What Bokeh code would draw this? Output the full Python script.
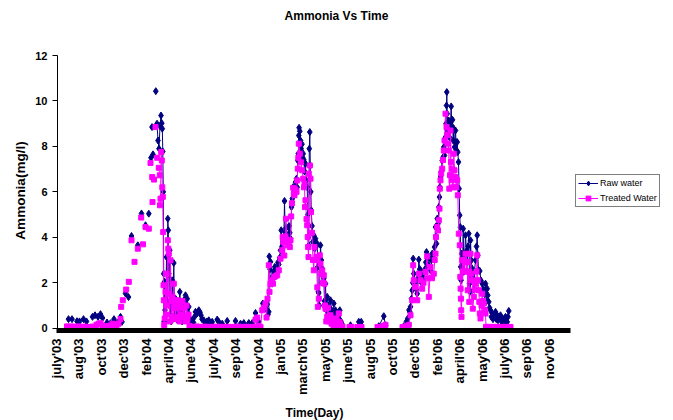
import numpy as np
from bokeh.plotting import figure
from bokeh.models import Range1d, FixedTicker, CustomJSTickFormatter, Legend, LegendItem, Label
from bokeh.embed import file_html
from bokeh.resources import INLINE

FONT = "Liberation Sans"

month_labels = ["july'03", "aug'03", "oct'03", "dec'03", "feb'04", "april'04", "june'04",
                "july'04", "sep'04", "nov'04", "jan'05", "march'05", "may'05", "june'05",
                "aug'05", "oct'05", "dec'05", "feb'06", "april'06", "may'06", "july'06",
                "sep'06", "nov'06"]
label_start = -1.0    # record index of first category label
label_step = 22.4     # records between category labels
record_count = 513    # records spanned by the category axis
y_min, y_max = -0.1, 12
y_ticks = [0, 2, 4, 6, 8, 10, 12]

# Raw water (record index, ammonia mg/l); None = missing record (line gap)
raw_pos = [
    11, 14.5, None, 19.5, 22, 26, 29, None, 35, 37.5, 40.5, 43, 45, None,
    49.5, 53, 56.5, 60, 63, 64.5, None,
    68, 71, None, 74, None, 80.3, None, 84, None, 88, None, 91.3, None,
    93.5, 95.5, None, 94.5, None, 98.3, None,
    99.5, 100.5, 101.5, 102.5, 103.5, 104.3, 104.8, 105.3, 105.8, 106.2,
    106.6, 107, 107.5, 108, 109, 109.5, 110.3, 110.8, 111.3, 111.8,
    112.3, 113, 113.7, 114.7, 115.5, 116.3, 117, 118, 119, 120,
    121, 122.3, 123.5, 124.5, 125.5, 126.3, 127, 128, 129, 129.7,
    130.5, 131.3, 132.5, 133.5, 134.7, 136, 137, 138, 139.7, 141.3,
    142.5, 143.5, 144.5, 146.3, 148, 149.5, 151.3, 153, 154.7, None,
    159.7, 161.3, 164.7, None, 169.7, None, 178, None, 183, 186.3, None,
    191.3, 194.7, None, 198, 201.3, None,
    205.3, 206.5, 207.3, 208, 209.7, 210.5, 211.3, 211.8, 212.5, 213,
    213.8, 214.7, 215.5, 216.3, 217.3, 218.5, 219.7, 220.5, 221.3, 222.2,
    223, 223.7, 224.5, 225.5, 226.3, 227, 227.7, 228.5, 229.5, 230.3,
    231.5, 232.3, 233, 234, 234.8, 235.7, 236.5, 237.2, 238, 239,
    239.7, 240.3, 240.8, 241.3, 241.6, 242.3, 243, 243.7, 244.5, 245.2,
    245.7, 246.3, 247, 248, 248.8, 249.7, 250.3, 250.8, 251.3, 251.8,
    252.3, 252.8, 253.3, 253.8, 254.5, 255.3, 256.3, 257.2, 258, 258.8,
    259.7, 260.3, 260.8, 261.3, 261.8, 262.5, 263, 263.8, 264.7, 265.5,
    266.3, 267, 268, 268.8, 269.7, 270.8, 271.8, 273, 274, 275,
    276.3, 277, 278, 279, 279.7, 280.5, 281.3, 282.3, 283.5, 285,
    None,
    293, None, 301.3, 303.7, None, 321.3, 326.3, 328, None,
    346.3, 348, 349, 350.3, 351.5, 352.3, 353, 354, 354.7, 355.3,
    355.7, 356.3, 357, 358, 358.8, 359.7, 360.5, 361.3, 362.2, 363,
    364, 365, 366.3, 367.5, 368.3, 369, 370, 371.3, 372.2, 373,
    374, 374.7, 375.8, 377, 378, 379, 379.7, 380.5, 381.3, 382,
    382.3, 383, 383.8, 384.7, 385.7, 386.3, 387, 388, 388.5, 389,
    389.3, 389.7, 390.5, 391.3, 392, 393, 393.7, 394.3, 395, 395.7,
    396.3, 397, 398, 398.5, 399, 399.7, 400.3, 401, 401.6, 402.2,
    402.8, 403.2, 403.6, 404.2, 405, 405.7, 406.3, 407, 408, 409,
    409.7, 410.5, 411.3, 412, 412.5, 413, 413.8, 414.7, 415.5, 416.3,
    417, 418, 419, 419.7, 420.3, 421, 422.3, 423.5, 424.7, 425.5,
    426.3, 427.2, 428, 428.8, 429.7, 430.3, 431.3, 432, 433, 433.8,
    434.7, 435.5, 436.5, 438, 438.8, 439.7, 440.5, 441.5, 443, 444,
    444.7, 445.5, 446.5, 448, 449, 449.7, 450.5, 451.3,
]
raw_val = [
    0.40, 0.40, None, 0.31, 0.30, 0.40, 0.30, None, 0.50, 0.57, 0.50, 0.62, 0.45, None,
    0.25, 0.22, 0.40, 0.24, 0.50, 0.28, None,
    1.53, 1.37, None, 4.06, None, 3.65, None, 5.05, None, 4.53, None, 5.04, None,
    7.5, 7.65, None, 8.85, None, 10.43, None,
    9.0, 8.26, 7.9, 8.9, 9.36, 9.02, 8.78, 7.78, 6.0, 2.4,
    0.3, 2.04, 0.8, 0.3, 3.13, 1.2, 4.82, 4.31, 2.4, 1.0,
    3.43, 0.6, 0.3, 2.11, 1.0, 2.87, 0.5, 1.3, 0.4, 1.1,
    0.6, 1.6, 0.7, 0.3, 1.1, 1.23, 0.5, 1.45, 1.0, 1.3,
    0.5, 0.94, 0.4, 0.2, 0.35, 0.25, 0.5, 0.72, 0.65, 0.79,
    0.7, 0.57, 0.4, 0.35, 0.2, 0.3, 0.35, 0.25, 0.28, None,
    0.38, 0.28, 0.2, None, 0.32, None, 0.32, None, 0.2, 0.23, None,
    0.23, 0.23, None, 0.67, 0.28, None,
    1.09, 0.9, 1.01, 0.86, 1.05, 0.6, 0.72, 3.16, 2.6, 2.92,
    2.2, 1.96, 2.3, 2.5, 2.7, 2.3, 2.48, 2.9, 2.81, 3.1,
    3.43, 4.31, 3.6, 3.8, 3.94, 5.6, 4.2, 4.4, 3.9, 4.09,
    4.5, 4.2, 3.94, 5.33, 5.7, 6.21, 6.0, 6.2, 6.43, 6.58,
    6.2, 7.38, 7.68, 8.48, 8.82, 8.67, 8.26, 7.9, 8.1, 7.5,
    7.68, 7.41, 6.9, 7.24, 6.5, 6.21, 5.0, 4.0, 3.65, 7.9,
    8.63, 7.16, 6.0, 5.19, 4.5, 3.8, 4.09, 3.5, 3.94, 3.6,
    3.72, 2.7, 1.6, 1.55, 1.0, 2.8, 3.65, 3.0, 2.62, 2.3,
    2.18, 1.2, 1.96, 0.79, 1.38, 1.0, 0.6, 1.23, 0.8, 0.6,
    1.09, 0.5, 0.79, 0.4, 0.35, 0.5, 0.35, 0.79, 0.3, 0.15,
    None,
    0.13, None, 0.28, 0.28, None, 0.09, 0.53, 0.13, None,
    0.09, 0.06, 0.3, 0.43, 0.8, 0.72, 0.94, 1.3, 1.67, 2.0,
    3.06, 2.4, 2.0, 2.04, 1.7, 1.52, 2.2, 3.02, 2.6, 2.55,
    2.0, 2.3, 2.18, 2.6, 2.9, 3.35, 2.8, 3.13, 2.7, 2.55,
    3.0, 3.28, 3.1, 3.57, 4.45, 3.72, 4.82, 4.6, 5.33, 5.77,
    6.21, 6.65, 6.9, 7.38, 7.53, 7.97, 7.6, 8.41, 9.0, 9.8,
    10.39, 9.44, 8.7, 9.14, 8.4, 9.07, 9.76, 8.9, 9.17, 8.26,
    8.78, 7.97, 8.70, 8.19, 7.82, 8.19, 7.75, 7.31, 6.14, 4.97,
    4.45, 2.70, 2.11, 3.28, 2.6, 4.38, 2.48, 3.0, 4.09, 3.4,
    2.9, 3.6, 4.16, 1.96, 1.6, 3.87, 2.99, 2.62, 2.2, 1.7,
    2.5, 3.0, 3.6, 4.09, 3.21, 2.55, 2.52, 2.1, 1.96, 1.7,
    1.67, 1.5, 1.96, 1.2, 1.74, 1.45, 1.16, 0.9, 0.79, 0.5,
    0.65, 0.4, 0.6, 0.72, 0.4, 0.57, 0.35, 0.5, 0.57, 0.3,
    0.43, 0.25, 0.4, 0.5, 0.3, 0.28, 0.5, 0.76,
]

# Treated water
treated_pos = [
    9.5, 11.5, 13.5, 15.5, 17.5, 19.5, 21.5, 23.5, 25.5, 27.5, 29.5, None,
    33, 35, 37, 39, 41, 43, 45, None, 47, 49, 51, 53, 55, 57, 59, 61, 63, None,
    63.7, None, 65.3, None, 68.7, None, 71.3, None, 74, None, 77, None, 80.3, None,
    83.7, None, 85.5, None, 88, None, 91.3, None, 93, None, 94.7, None, 95, None,
    96.5, None, 98, None, 99.7, None, 101.3, 102.3, None,
    102.5, 103, 103.7, 104.3, 104.8, 105.3, 105.7, 106, 106.3, 106.7,
    107.2, 108, 108.6, 109, 109.6, 110.3, 110.8, 111.3, 111.8, 112.3,
    113, 113.7, 114.3, 115, 115.7, 116.3, 117, 118, 118.8, 119.7,
    120.5, 121.3, 122, 123, 124, 125, 126, 127, 128, 129,
    130, 131, 132, 133, 135, 137, 139, 141, 143, 145,
    147, 149, 151, 153, 155, 157, 159, 161, 163, 165,
    167, 169, 171, None,
    175, 177, 179, 181, 183, 185, 187, 189, 191, 193,
    195, 197, 198, 199.7, 201, 203, 204.7, 206.3, 208, 209,
    210, 211.3, 212, 213, 214.7, 215.5, 216.3, 218, 219.7, 221.3,
    223, 224.7, 225.2, 225.7, 226.8, 228, 228.5, 229.3, 230.3, 231.3,
    232.3, 233, 233.7, 234.5, 235.7, 236.3, 237, 238, 239, 239.7,
    240.3, 240.8, 241.3, 242.3, 243.5, 244.7, 245.7, 246.5, 247, 247.5,
    248, 249, 249.7, 250.2, 250.6, 251, 251.3, 252.3, 253, 253.5,
    254.5, 255.5, 256.3, 257, 258, 259, 259.8, 260.3, 261.3, 262.3,
    263, 263.8, 264.7, 265.5, 266.3, 266.8, 267.5, 268, 268.8, 269.7,
    270.5, 271.5, 273, 274, 275, 276, 277, 278, 279, 280,
    281.3, 281.8, 283, 284, 285, None,
    292, 294, None, 300, 302, 304, None, 320, 322, 324, 326, 328, None,
    345, 347, 349, 351.3, 353, 354.7, 355.7, 356.3, 358, 359.7,
    361.3, 363, 364.7, 366, 368, 369.7, 370.5, 371.3, 373, 374.5,
    376.3, 377.2, 378, 378.5, 379.7, 380.5, 381.3, 382, 382.3, 383,
    383.7, 384.7, 385.5, 386.3, 387, 388, 389, 389.8, 390.7, 391.3,
    391.8, 392.5, 393, 393.5, 394.2, 394.7, 395.5, 396.3, 397, 398,
    398.8, 399.7, 400.3, 401.3, 402.3, 402.8, 403.1, 403.4, 403.7, 404,
    404.7, 405.5, 406.3, 407, 408, 409, 409.7, 410.2, 411.3, 411.8,
    413, 413.8, 414.7, 415.3, 416.3, 417.2, 418, 419, 419.7, 420.3,
    421.3, 421.8, 422.3, 423, 424, 424.7, 425.5, 426.3, 427.2, 428,
    428.5, 430, 432, 434, 436, 438, 440, 442, 444, 446,
    448, 450, 452, 453,
]
treated_val = [
    0.08, 0.06, 0.08, 0.05, 0.07, 0.05, 0.08, 0.06, 0.05, 0.07, 0.06, None,
    0.05, 0.07, 0.06, 0.15, 0.2, 0.22, 0.12, None, 0.08, 0.06, 0.1, 0.12, 0.2, 0.15, 0.1, 0.2, 0.4, None,
    0.94, None, 1.23, None, 1.70, None, 2.04, None, 3.87, None, 2.92, None, 3.50, None,
    4.87, None, 3.69, None, 4.45, None, 4.38, None, 7.27, None, 6.65, None, 5.55, None,
    6.54, None, 8.85, None, 7.5, None, 7.06, 6.73, None,
    5.41, 5.70, 7.75, 7.38, 6.2, 5.78, 4.23, 1.89, 1.23, 0.14,
    0.43, 1.6, 0.6, 2.4, 1.0, 3.87, 3.5, 3.28, 1.5, 0.3,
    2.99, 1.2, 0.5, 1.38, 0.4, 1.96, 0.9, 0.4, 1.1, 1.23,
    0.5, 0.94, 0.3, 1.0, 0.6, 1.2, 0.5, 0.9, 0.3, 1.0,
    0.4, 0.6, 0.1, 0.05, 0.06, 0.05, 0.08, 0.05, 0.06, 0.05,
    0.07, 0.05, 0.06, 0.05, 0.06, 0.05, 0.07, 0.05, 0.06, 0.05,
    0.06, 0.05, 0.06, None,
    0.05, 0.06, 0.05, 0.07, 0.05, 0.06, 0.05, 0.06, 0.05, 0.06,
    0.05, 0.06, 0.38, 0.47, 0.1, 0.06, 0.79, 0.91, 1.09, 0.47,
    1.3, 2.77, 1.6, 1.96, 2.11, 1.96, 2.26, 2.29, 2.33, 2.55,
    3.06, 3.43, 4.01, 3.8, 3.2, 4.04, 4.82, 3.9, 3.65, 3.8,
    3.57, 3.87, 4.92, 5.5, 6.18, 5.9, 5.85, 6.1, 6.0, 6.5,
    7.02, 7.5, 8.12, 7.68, 7.3, 6.95, 6.58, 6.2, 6.36, 5.33,
    5.63, 4.8, 4.53, 4.01, 3.57, 3.13, 6.8, 7.16, 6.58, 5.11,
    4.2, 3.0, 2.55, 3.57, 3.0, 3.13, 1.8, 0.94, 1.3, 3.21,
    2.84, 2.4, 2.55, 2.0, 2.33, 1.96, 1.0, 0.86, 0.3, 0.5,
    0.9, 0.3, 0.57, 0.2, 0.4, 0.1, 0.3, 0.43, 0.1, 0.2,
    0.65, 0.28, 0.2, 0.05, 0.06, None,
    0.05, 0.06, None, 0.05, 0.06, 0.05, None, 0.05, 0.06, 0.05, 0.1, 0.15, None,
    0.05, 0.06, 0.1, 0.15, 0.57, 1.23, 2.77, 2.11, 1.82, 1.23,
    2.4, 2.11, 1.74, 2.0, 2.48, 3.16, 2.2, 1.38, 2.7, 2.2,
    2.4, 3.0, 3.28, 4.01, 4.45, 4.3, 4.75, 5.26, 6.14, 6.51,
    6.8, 7.02, 7.4, 7.82, 8.26, 9.44, 8.85, 8.5, 8.12, 7.82,
    6.14, 6.73, 8.70, 7.31, 6.51, 7.02, 6.2, 7.68, 6.95, 6.65,
    6.2, 6.51, 5.85, 4.16, 3.65, 2.26, 1.74, 1.3, 0.79, 0.5,
    2.99, 2.5, 3.0, 2.5, 3.28, 2.5, 2.92, 1.67, 2.48, 1.16,
    3.28, 2.4, 2.11, 0.86, 1.38, 1.7, 1.96, 2.5, 3.21, 2.11,
    1.67, 1.16, 0.65, 0.43, 1.0, 1.52, 1.2, 1.09, 0.8, 0.65,
    0.06, 0.05, 0.06, 0.05, 0.06, 0.05, 0.06, 0.05, 0.06, 0.05,
    0.06, 0.05, 0.06, 0.05,
]

assert len(raw_pos) == len(raw_val), (len(raw_pos), len(raw_val))
assert len(treated_pos) == len(treated_val), (len(treated_pos), len(treated_val))

raw_x = np.array(raw_pos, dtype=float)
raw_y = np.array(raw_val, dtype=float)
tr_x = np.array(treated_pos, dtype=float)
tr_y = np.array(treated_val, dtype=float)

# ---- layout (pixels) ------------------------------------------------------
# The plotting frame covers the whole canvas; the axes are pinned in place with
# fixed_location so that the title, axis titles and legend can sit anywhere.
W, H = 673, 420
AXIS_X0 = 57            # pixel column of the value axis
AXIS_Y0 = 330           # pixel row of the category axis (y = y_min)
AXIS_TOP = 55           # pixel row of y = y_max
AXIS_RIGHT = 570        # pixel column where the category axis ends
px_per_rec = (AXIS_RIGHT - AXIS_X0) / record_count
px_per_unit = (AXIS_Y0 - AXIS_TOP) / (y_max - y_min)
x_lo = -AXIS_X0 / px_per_rec
x_hi = (W - AXIS_X0) / px_per_rec
y_lo = y_min - (H - AXIS_Y0) / px_per_unit
y_hi = y_max + AXIS_TOP / px_per_unit

p = figure(width=W, height=H, output_backend="svg", toolbar_location=None,
           x_range=Range1d(x_lo, x_hi), y_range=Range1d(y_lo, y_hi),
           min_border_left=0, min_border_right=0, min_border_top=0, min_border_bottom=0)
p.background_fill_color = "white"
p.border_fill_color = "white"
p.outline_line_color = None
p.xgrid.visible = False
p.ygrid.visible = False

NAVY = "#000080"
MAGENTA = "#FF00FF"
raw_line = p.line(raw_x, raw_y, line_color=NAVY, line_width=1)
raw_pts = p.scatter(raw_x, raw_y, marker="diamond", size=7, fill_color=NAVY, line_color=NAVY)
tr_line = p.line(tr_x, tr_y, line_color=MAGENTA, line_width=1)
tr_pts = p.scatter(tr_x, tr_y, marker="square", size=5, fill_color=MAGENTA, line_color=MAGENTA)

xa = p.xaxis[0]
xa.fixed_location = y_min
xa.bounds = (label_start, record_count)
xa.ticker = FixedTicker(ticks=[label_start + label_step * i for i in range(len(month_labels))])
xa.formatter = CustomJSTickFormatter(
    args=dict(labels=month_labels, start=label_start, step=label_step),
    code="const i = Math.round((tick - start) / step); return (i >= 0 && i < labels.length) ? labels[i] : '';")
xa.major_label_orientation = np.pi / 2
xa.major_tick_out = 0
xa.major_tick_in = 0
xa.minor_tick_out = 0
xa.minor_tick_in = 0
xa.axis_line_width = 5
xa.axis_line_color = "black"
xa.major_label_standoff = 8
xa.major_label_text_font = FONT
xa.major_label_text_font_size = "13px"
xa.major_label_text_font_style = "bold"
xa.major_label_text_color = "black"

ya = p.yaxis[0]
ya.fixed_location = 0
ya.bounds = (y_min, y_max)
ya.ticker = FixedTicker(ticks=y_ticks)
ya.major_tick_out = 5
ya.major_tick_in = 0
ya.minor_tick_out = 0
ya.minor_tick_in = 0
ya.axis_line_color = "black"
ya.major_tick_line_color = "black"
ya.major_label_standoff = 5
ya.major_label_text_font = FONT
ya.major_label_text_font_size = "11px"
ya.major_label_text_font_style = "bold"
ya.major_label_text_color = "black"


def screen_label(text, cx, cy, size, angle=0.0):
    """Text centred at canvas pixel (cx, cy) measured from the top-left corner."""
    return Label(x=cx, y=H - cy, x_units="screen", y_units="screen", text=text, angle=angle,
                 text_align="center", text_baseline="middle", text_font=FONT,
                 text_font_size=size, text_font_style="bold", text_color="black")


p.add_layout(screen_label("Ammonia Vs Time", 336, 15, "12px"))
p.add_layout(screen_label("Ammonia(mg/l)", 20, 190, "13.5px", angle=np.pi / 2))
p.add_layout(screen_label("Time(Day)", 314, 412, "12px"))

legend = Legend(items=[LegendItem(label="Raw water", renderers=[raw_line, raw_pts]),
                       LegendItem(label="Treated Water", renderers=[tr_line, tr_pts])],
                location=(575, H - 207), orientation="vertical")
legend.label_text_font = FONT
legend.label_text_font_size = "9px"
legend.label_text_color = "black"
legend.glyph_width = 20
legend.glyph_height = 12
legend.label_height = 12
legend.label_standoff = 2
legend.padding = 2
legend.spacing = 3
legend.margin = 0
legend.border_line_color = "black"
legend.border_line_width = 1
legend.background_fill_color = "white"
legend.background_fill_alpha = 1
p.add_layout(legend)

open("out.html", "w").write(file_html(p, INLINE))
